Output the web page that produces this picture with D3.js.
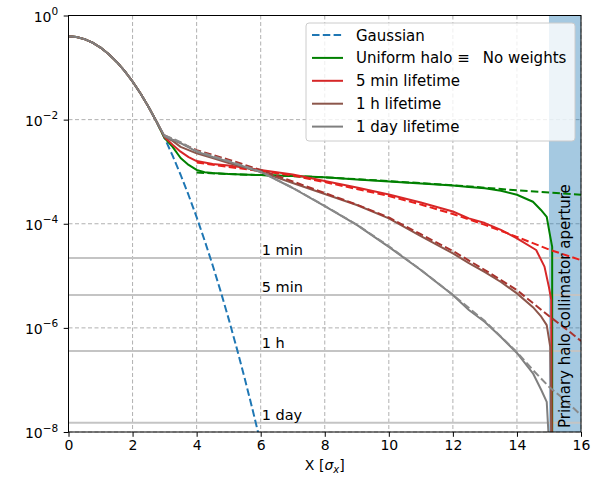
<!DOCTYPE html>
<html>
<head>
<meta charset="utf-8">
<script src="https://cdn.jsdelivr.net/npm/d3@7"></script>
<style>
  body { margin: 0; background: #fff; }
  svg { font-family: 'DejaVu Sans', sans-serif; }
</style>
</head>
<body>
<svg width="591" height="479"></svg>
<script>
// gaussian core, shared by every curve up to x = 2.75
var gaussX = [0, 0.25, 0.5, 0.75, 1, 1.25, 1.5, 1.75, 2, 2.25, 2.5, 2.75, 3, 3.25, 3.5, 3.75, 4, 4.25, 4.5, 4.75, 5, 5.25, 5.5, 5.75, 6]
var gaussY = [0.3989, 0.3867, 0.3521, 0.3011, 0.242, 0.1826, 0.1295, 0.0863, 0.054, 0.0317, 0.0175, 0.00909, 0.00443, 0.00203, 8.73e-4, 3.53e-4, 1.34e-4, 4.77e-5, 1.6e-5, 5.03e-6, 1.49e-6, 4.13e-7, 1.08e-7, 2.64e-8, 6.08e-9]
var coreN = 12

var uniformX = [3, 3.25, 3.5, 3.75, 4, 4.25, 4.5, 5, 6, 7, 8, 9, 10, 11, 12, 12.5, 13, 13.5, 14, 14.5, 14.75, 14.93, 15.02, 15.1, 15.1]
var uniformY = [4.4e-3, 3.0e-3, 1.83e-3, 1.35e-3, 1.08e-3, 9.8e-4, 9.4e-4, 9.0e-4, 8.6e-4, 8.3e-4, 7.8e-4, 7.1e-4, 6.5e-4, 5.9e-4, 5.4e-4, 5.1e-4, 4.8e-4, 4.3e-4, 3.6e-4, 2.65e-4, 1.84e-4, 1.36e-4, 6.6e-5, 3.6e-5, 1e-9]
var uniformFitX = [4, 5, 6, 8, 10, 12, 14, 16]
var uniformFitY = [9.6e-4, 9.0e-4, 8.6e-4, 7.8e-4, 6.6e-4, 5.5e-4, 4.4e-4, 3.6e-4]

var min5X = [3, 3.25, 3.5, 3.75, 4, 4.5, 5, 6, 7, 8, 9, 10, 11, 12, 12.5, 13, 13.5, 14, 14.6, 14.86, 15.0, 15.07, 15.09]
var min5Y = [4.6e-3, 3.3e-3, 2.42e-3, 1.91e-3, 1.6e-3, 1.4e-3, 1.31e-3, 1.08e-3, 8.83e-4, 6.62e-4, 4.97e-4, 3.65e-4, 2.56e-4, 1.72e-4, 1.27e-4, 1.03e-4, 7.6e-5, 5.25e-5, 3.13e-5, 1.5e-5, 6e-6, 3.5e-6, 1e-9]
var min5FitX = [4, 5, 6, 7, 8, 9, 10, 11, 12, 13, 14, 15, 16]
var min5FitY = [1.5e-3, 1.23e-3, 1.03e-3, 8.45e-4, 6.3e-4, 4.65e-4, 3.41e-4, 2.34e-4, 1.54e-4, 9.5e-5, 5.6e-5, 3.2e-5, 2.0e-5]

var hourX = [3, 3.25, 3.5, 4, 4.5, 5, 6, 7, 8, 9, 10, 11, 12, 12.5, 13, 13.5, 14, 14.5, 14.76, 14.93, 15.04, 15.09]
var hourY = [4.7e-3, 3.9e-3, 3.0e-3, 2.25e-3, 1.83e-3, 1.47e-3, 9.9e-4, 6.06e-4, 3.73e-4, 2.29e-4, 1.27e-4, 5.8e-5, 2.7e-5, 1.76e-5, 1.18e-5, 7.6e-6, 4.6e-6, 2.5e-6, 1.64e-6, 1.13e-6, 4.3e-7, 1e-9]
var hourFitX = [3, 3.5, 4, 5, 6, 7, 8, 9, 10, 11, 12, 13, 14, 14.5, 15, 15.5, 16]
var hourFitY = [5.0e-3, 3.55e-3, 2.6e-3, 1.7e-3, 1.08e-3, 6.5e-4, 3.9e-4, 2.33e-4, 1.32e-4, 6.3e-5, 3.0e-5, 1.29e-5, 5.3e-6, 3.0e-6, 1.69e-6, 9.9e-7, 5.6e-7]

var dayX = [3, 3.25, 3.5, 4, 4.5, 5, 6, 7, 8, 9, 10, 11, 12, 12.5, 13, 13.5, 14, 14.5, 14.76, 14.93, 15.07]
var dayY = [4.8e-3, 4.1e-3, 3.55e-3, 2.42e-3, 1.91e-3, 1.56e-3, 9.9e-4, 4.86e-4, 2.19e-4, 9.5e-5, 3.6e-5, 1.29e-5, 4.28e-6, 2.2e-6, 1.3e-6, 6.7e-7, 3.3e-7, 1.34e-7, 6.4e-8, 3.8e-8, 1e-9]
var dayFitX = [3, 3.5, 4, 5, 6, 7, 8, 9, 10, 11, 12, 13, 14, 14.5, 15, 15.5, 16]
var dayFitY = [5.0e-3, 3.7e-3, 2.5e-3, 1.6e-3, 1.0e-3, 4.9e-4, 2.2e-4, 9.6e-5, 3.7e-5, 1.3e-5, 4.3e-6, 1.35e-6, 3.4e-7, 1.55e-7, 7.4e-8, 4.1e-8, 2.1e-8]

var levelNames = ['1 min', '5 min', '1 h', '1 day']
var levelValues = [2.2e-5, 4.3e-6, 3.6e-7, 1.5e-8]

var xTicks = [0, 2, 4, 6, 8, 10, 12, 14, 16]
var yTicks = [1, 1e-2, 1e-4, 1e-6, 1e-8]
var yTickExp = ['0', '\u22122', '\u22124', '\u22126', '\u22128']

var legendNames = ['Gaussian', 'Uniform halo \u2261', '5 min lifetime', '1 h lifetime', '1 day lifetime']

var pLeft = 68.5, pRight = 581, pTop = 15.5, pBottom = 432

var svg = d3.select('svg')
var x = d3.scaleLinear().domain([0, 16]).range([pLeft, pRight])
var y = d3.scaleLog().domain([1e-8, 1]).range([pBottom, pTop])

svg.append('defs').append('clipPath').attr('id', 'plot')
    .append('rect').attr('x', pLeft).attr('y', pTop).attr('width', pRight - pLeft).attr('height', pBottom - pTop)

// grid
var grid = svg.append('g')
grid.selectAll('.gx').data(xTicks).enter().append('line')
    .attr('x1', (d) => x(d)).attr('x2', (d) => x(d)).attr('y1', pTop).attr('y2', pBottom)
    .attr('stroke', '#b0b0b0').attr('stroke-width', 1).attr('stroke-dasharray', '4,2.5')
grid.selectAll('.gy').data(yTicks).enter().append('line')
    .attr('y1', (d) => y(d)).attr('y2', (d) => y(d)).attr('x1', pLeft).attr('x2', pRight)
    .attr('stroke', '#b0b0b0').attr('stroke-width', 1).attr('stroke-dasharray', '4,2.5')

// collimator band
svg.append('rect').attr('x', x(15)).attr('y', pTop).attr('width', x(16) - x(15)).attr('height', pBottom - pTop)
    .attr('fill', '#1f77b4').attr('fill-opacity', 0.4)

// lifetime levels
var lv = svg.append('g')
lv.selectAll('line').data(levelValues).enter().append('line')
    .attr('x1', pLeft).attr('x2', pRight).attr('y1', (d) => y(d)).attr('y2', (d) => y(d))
    .attr('stroke', '#c4c4c4').attr('stroke-width', 2)
lv.selectAll('text').data(levelValues).enter().append('text')
    .attr('x', x(6) + 1).attr('y', (d) => y(d) - 3)
    .attr('font-size', 14.5).attr('fill', '#000')
    .text((d, i) => levelNames[i])

var line = d3.line().x((d) => x(d[0])).y((d) => y(d[1]))
var plot = svg.append('g').attr('clip-path', 'url(#plot)')

function series(xs, ys, withCore) {
    var pts = []
    if (withCore) {
        for (var i = 0; i < coreN; i++) pts.push([gaussX[i], gaussY[i]])
    }
    xs.forEach((v, i) => pts.push([v, ys[i]]))
    return pts
}

function draw(pts, color, dashed) {
    plot.append('path').attr('d', line(pts))
        .attr('fill', 'none').attr('stroke', color).attr('stroke-width', 2)
        .attr('stroke-linejoin', 'round')
        .attr('stroke-dasharray', dashed ? '7.5,3.3' : null)
}

draw(series(gaussX, gaussY, false), '#1f77b4', true)
draw(series(uniformX, uniformY, true), '#008000', false)
draw(series(uniformFitX, uniformFitY, false), '#008000', true)
draw(series(min5X, min5Y, true), '#d62728', false)
draw(series(min5FitX, min5FitY, false), '#e8201c', true)
draw(series(hourX, hourY, true), '#8c564b', false)
draw(series(hourFitX, hourFitY, false), '#a8342e', true)
draw(series(dayX, dayY, true), '#7f7f7f', false)
draw(series(dayFitX, dayFitY, false), '#8a8a8a', true)

// band label
svg.append('text')
    .attr('transform', 'translate(' + (x(15.5) + 5.5) + ',' + (pBottom - 4) + ') rotate(-90)')
    .attr('font-size', 15).attr('fill', '#000')
    .text('Primary halo collimator aperture')

// axes
var xAxis = svg.append('g').attr('transform', 'translate(0,' + pBottom + ')')
    .call(d3.axisBottom(x).tickValues(xTicks).tickSize(4.8).tickPadding(3.5).tickFormat(d3.format('d')))
var yAxis = svg.append('g').attr('transform', 'translate(' + pLeft + ',0)')
    .call(d3.axisLeft(y).tickValues(yTicks).tickSize(4.8).tickPadding(5.5).tickFormat(''))
;[xAxis, yAxis].forEach((g) => {
    g.select('.domain').remove()
    g.selectAll('line').attr('stroke', '#000').attr('stroke-width', 1)
    g.selectAll('text').attr('font-size', 14).attr('fill', '#000').attr('font-family', 'DejaVu Sans')
})
yAxis.selectAll('.tick text').each(function (d, i) {
    var t = d3.select(this)
    t.append('tspan').text('10')
    t.append('tspan').attr('font-size', 10.5).attr('dy', -6.5).text(yTickExp[i])
}).attr('dy', '0.4em')

svg.append('rect').attr('x', pLeft).attr('y', pTop).attr('width', pRight - pLeft).attr('height', pBottom - pTop)
    .attr('fill', 'none').attr('stroke', '#000').attr('stroke-width', 1)

svg.append('text').attr('x', (pLeft + pRight) / 2).attr('y', 470).attr('text-anchor', 'middle')
    .attr('font-size', 14).attr('fill', '#000')
    .html('X [<tspan font-style="italic">\u03c3</tspan><tspan font-size="10" dy="3" font-style="italic">x</tspan><tspan dy="-3">]</tspan>')

// legend
var lg = svg.append('g')
lg.append('rect').attr('x', 306).attr('y', 23).attr('width', 269).attr('height', 118).attr('rx', 3)
    .attr('fill', '#fff').attr('fill-opacity', 0.8).attr('stroke', '#cccccc').attr('stroke-width', 1)
var legendColors = ['#1f77b4', '#008000', '#d62728', '#8c564b', '#7f7f7f']
legendNames.forEach((name, i) => {
    var yy = 35 + i * 22.9
    lg.append('line').attr('x1', 312).attr('x2', 343).attr('y1', yy).attr('y2', yy)
        .attr('stroke', legendColors[i]).attr('stroke-width', 2)
        .attr('stroke-dasharray', i === 0 ? '7.5,3.3' : null)
    var t = lg.append('text').attr('x', 356).attr('y', yy + 5.5).attr('font-size', 15).attr('fill', '#000').text(name)
    if (i === 1) t.append('tspan').attr('dx', 13).text('No weights')
})
</script>
</body>
</html>
